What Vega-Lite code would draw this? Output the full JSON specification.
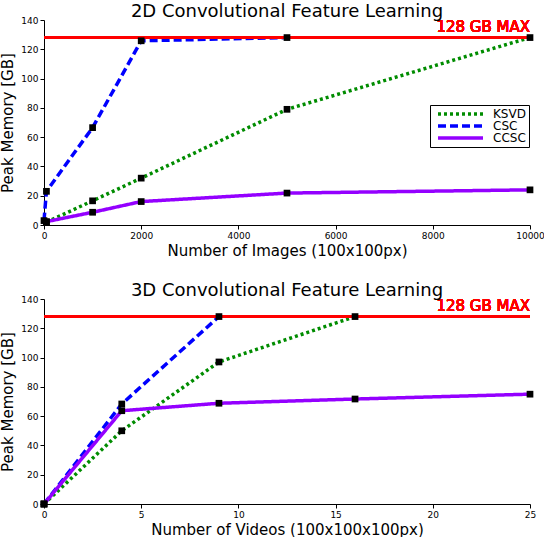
{
  "$schema": "https://vega.github.io/schema/vega-lite/v6.json",
  "background": "white",
  "padding": {"left": 0, "top": 3, "right": 2, "bottom": 0},
  "spacing": 24,
  "config": {
    "font": "DejaVu Sans",
    "view": {"stroke": null},
    "title": {"fontSize": 18, "fontWeight": "normal", "color": "black", "offset": -5, "anchor": "middle"},
    "axis": {
      "grid": false, "domainColor": "black", "tickColor": "black", "tickSize": 4,
      "labelFontSize": 9, "labelColor": "black", "titleFontSize": 15, "titleFontWeight": "normal",
      "titleColor": "black", "labelFlush": false, "labelOverlap": false
    }
  },
  "datasets": {
    "img": [
      {"n": 50, "mem": 2, "method": "KSVD"},
      {"n": 1000, "mem": 16.5, "method": "KSVD"},
      {"n": 2000, "mem": 32, "method": "KSVD"},
      {"n": 5000, "mem": 79, "method": "KSVD"},
      {"n": 10000, "mem": 128, "method": "KSVD"},
      {"n": 0, "mem": 3, "method": "CSC"},
      {"n": 50, "mem": 23, "method": "CSC"},
      {"n": 1000, "mem": 66.5, "method": "CSC"},
      {"n": 2000, "mem": 125.8, "method": "CSC"},
      {"n": 5000, "mem": 128, "method": "CSC"},
      {"n": 50, "mem": 2.3, "method": "CCSC"},
      {"n": 1000, "mem": 8.7, "method": "CCSC"},
      {"n": 2000, "mem": 16, "method": "CCSC"},
      {"n": 5000, "mem": 21.8, "method": "CCSC"},
      {"n": 10000, "mem": 24, "method": "CCSC"}
    ],
    "vid": [
      {"n": 0, "mem": 0, "method": "KSVD"},
      {"n": 4, "mem": 50, "method": "KSVD"},
      {"n": 9, "mem": 97, "method": "KSVD"},
      {"n": 16, "mem": 128, "method": "KSVD"},
      {"n": 0, "mem": 0, "method": "CSC"},
      {"n": 4, "mem": 68.3, "method": "CSC"},
      {"n": 9, "mem": 128, "method": "CSC"},
      {"n": 0, "mem": 0, "method": "CCSC"},
      {"n": 4, "mem": 63.7, "method": "CCSC"},
      {"n": 9, "mem": 68.8, "method": "CCSC"},
      {"n": 16, "mem": 71.7, "method": "CCSC"},
      {"n": 25, "mem": 75, "method": "CCSC"}
    ]
  },
  "resolve": {"scale": {"x": "independent", "y": "independent", "color": "independent", "strokeDash": "independent", "strokeWidth": "independent"}, "legend": {"color": "independent", "strokeDash": "independent", "strokeWidth": "independent"}},
  "vconcat": [
    {
      "title": "2D Convolutional Feature Learning",
      "width": 486,
      "height": 205,
      "data": {"name": "img"},
      "layer": [
        {
          "mark": {"type": "line"},
          "encoding": {
            "x": {"field": "n", "type": "quantitative", "title": "Number of Images (100x100px)", "scale": {"domain": [0, 10000], "nice": false}, "axis": {"values": [0, 2000, 4000, 6000, 8000, 10000], "tickCount": 20, "format": "d", "labelOverlap": false, "titlePadding": 3}},
            "y": {"field": "mem", "type": "quantitative", "title": "Peak Memory [GB]", "scale": {"domain": [0, 140]}, "axis": {"values": [0, 20, 40, 60, 80, 100, 120, 140], "tickCount": 20, "labelOverlap": false, "titlePadding": 5}},
            "color": {"field": "method", "type": "nominal", "scale": {"domain": ["KSVD", "CSC", "CCSC"], "range": ["#008c00", "#0000ff", "#9400ff"]},
              "legend": {"title": null, "orient": "none", "legendX": 386, "legendY": 85, "symbolType": "M-3.75,0H3.75", "symbolSize": 144, "symbolOffset": 19.5, "labelOffset": 24.5, "labelFontSize": 12, "labelColor": "black", "rowPadding": 0, "clipHeight": 12, "strokeColor": "black", "fillColor": "white", "padding": 3, "offset": 0}},
            "strokeDash": {"field": "method", "type": "nominal", "scale": {"domain": ["KSVD", "CSC", "CCSC"], "range": [[3, 3], [8, 4], [1, 0]]}},
            "strokeWidth": {"field": "method", "type": "nominal", "scale": {"domain": ["KSVD", "CSC", "CCSC"], "range": [3.5, 3.5, 2]}},
            "order": {"field": "n"}
          }
        },
        {
          "mark": {"type": "rule", "color": "#ff0000", "strokeWidth": 3},
          "encoding": {"y": {"datum": 128, "type": "quantitative"}}
        },
        {
          "mark": {"type": "text", "color": "#ff0000", "fontSize": 15, "fontWeight": "normal", "align": "right", "baseline": "bottom", "dy": -3, "dx": 0},
          "encoding": {
            "x": {"datum": 10000, "type": "quantitative"},
            "y": {"datum": 128, "type": "quantitative"},
            "text": {"value": "128 GB MAX"}
          }
        },
        {
          "mark": {"type": "point", "shape": "square", "filled": true, "color": "black", "opacity": 1, "size": 45},
          "encoding": {
            "x": {"field": "n", "type": "quantitative"},
            "y": {"field": "mem", "type": "quantitative"}
          }
        }
      ]
    },
    {
      "title": "3D Convolutional Feature Learning",
      "width": 486,
      "height": 205,
      "data": {"name": "vid"},
      "layer": [
        {
          "mark": {"type": "line"},
          "encoding": {
            "x": {"field": "n", "type": "quantitative", "title": "Number of Videos (100x100x100px)", "scale": {"domain": [0, 25], "nice": false}, "axis": {"values": [0, 5, 10, 15, 20, 25], "tickCount": 20, "labelOverlap": false, "titlePadding": 3}},
            "y": {"field": "mem", "type": "quantitative", "title": "Peak Memory [GB]", "scale": {"domain": [0, 140]}, "axis": {"values": [0, 20, 40, 60, 80, 100, 120, 140], "tickCount": 20, "labelOverlap": false, "titlePadding": 5}},
            "color": {"field": "method", "type": "nominal", "scale": {"domain": ["KSVD", "CSC", "CCSC"], "range": ["#008c00", "#0000ff", "#9400ff"]}, "legend": null},
            "strokeDash": {"field": "method", "type": "nominal", "scale": {"domain": ["KSVD", "CSC", "CCSC"], "range": [[3, 3], [8, 4], [1, 0]]}, "legend": null},
            "strokeWidth": {"field": "method", "type": "nominal", "scale": {"domain": ["KSVD", "CSC", "CCSC"], "range": [3.5, 3.5, 2]}, "legend": null},
            "order": {"field": "n"}
          }
        },
        {
          "mark": {"type": "rule", "color": "#ff0000", "strokeWidth": 3},
          "encoding": {"y": {"datum": 128, "type": "quantitative"}}
        },
        {
          "mark": {"type": "text", "color": "#ff0000", "fontSize": 15, "fontWeight": "normal", "align": "right", "baseline": "bottom", "dy": -3, "dx": 0},
          "encoding": {
            "x": {"datum": 25, "type": "quantitative"},
            "y": {"datum": 128, "type": "quantitative"},
            "text": {"value": "128 GB MAX"}
          }
        },
        {
          "mark": {"type": "point", "shape": "square", "filled": true, "color": "black", "opacity": 1, "size": 45},
          "encoding": {
            "x": {"field": "n", "type": "quantitative"},
            "y": {"field": "mem", "type": "quantitative"}
          }
        }
      ]
    }
  ]
}
